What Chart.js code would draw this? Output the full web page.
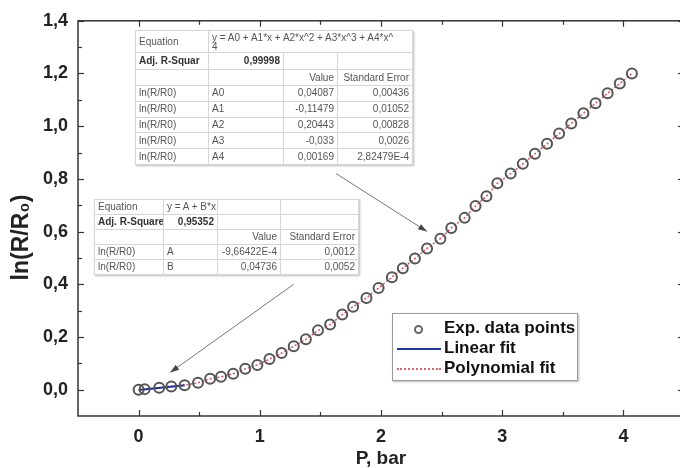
<!DOCTYPE html>
<html>
<head>
<meta charset="utf-8">
<script src="https://cdn.jsdelivr.net/npm/chart.js@4.4.1/dist/chart.umd.min.js"></script>
<style>
  body { margin: 0; overflow: hidden; background: #fff; }
  #wrap { position: relative; width: 680px; height: 468px; overflow: hidden; }
  #chart { position: absolute; left: 0; top: 0; }
  .fit { position: absolute; border-collapse: collapse; table-layout: fixed; background: #fff;
         font: 10px "Liberation Sans", Arial, sans-serif; color: #555;
         border: 1px solid #9a9a9a; box-shadow: 1px 1px 2px #bbb; }
  .fit td { border: 1px solid #d6d6d6; padding: 0 3px; white-space: nowrap; overflow: hidden; line-height: 10px; }
  .fit td.r { text-align: right; }
  .fit .b { font-weight: bold; color: #333; }
  #legend { position: absolute; left: 392px; top: 313px; width: 186px; height: 68px; background: #fff;
            border: 1px solid #9a9a9a; box-shadow: 1px 1px 2px #bbb; box-sizing: border-box; padding-top: 4px;
            font: bold 17px "Liberation Sans", Arial, sans-serif; color: #111; overflow: hidden; }
  #legend .item { height: 20px; line-height: 20px; white-space: nowrap; }
  #legend .sym { display: inline-block; width: 44px; margin: 0 3px 0 4px; vertical-align: middle; text-align: center; height: 10px; position: relative; }
  #legend .circ i { display: inline-block; width: 5px; height: 5px; border: 2px solid #666; border-radius: 50%; position: absolute; left: 17px; top: 1px; }
  #legend .blue { border-top: 2px solid #2233aa; height: 0; }
  #legend .red { border-top: 2px dotted #e0606a; height: 0; }
</style>
</head>
<body>
<div id="wrap">
  <canvas id="chart" width="692" height="468"></canvas>

  <table class="fit" style="left:135px; top:30px; width:277px; height:135px;">
    <colgroup><col style="width:73px"><col style="width:75px"><col style="width:54px"><col style="width:75px"></colgroup>
    <tr style="height:22px"><td>Equation</td><td colspan="3" style="line-height:9px">y = A0 + A1*x + A2*x^2 + A3*x^3 + A4*x^<br>4</td></tr>
    <tr style="height:17px"><td class="b">Adj. R-Squar</td><td class="r b">0,99998</td><td></td><td></td></tr>
    <tr style="height:16px"><td></td><td></td><td class="r">Value</td><td class="r">Standard Error</td></tr>
    <tr><td>ln(R/R0)</td><td>A0</td><td class="r">0,04087</td><td class="r">0,00436</td></tr>
    <tr><td>ln(R/R0)</td><td>A1</td><td class="r">-0,11479</td><td class="r">0,01052</td></tr>
    <tr><td>ln(R/R0)</td><td>A2</td><td class="r">0,20443</td><td class="r">0,00828</td></tr>
    <tr><td>ln(R/R0)</td><td>A3</td><td class="r">-0,033</td><td class="r">0,0026</td></tr>
    <tr><td>ln(R/R0)</td><td>A4</td><td class="r">0,00169</td><td class="r">2,82479E-4</td></tr>
  </table>

  <table class="fit" style="left:94px; top:199px; width:264px; height:76px;">
    <colgroup><col style="width:69px"><col style="width:54px"><col style="width:63px"><col style="width:78px"></colgroup>
    <tr><td>Equation</td><td>y = A + B*x</td><td></td><td></td></tr>
    <tr><td class="b">Adj. R-Square</td><td class="r b">0,95352</td><td></td><td></td></tr>
    <tr><td></td><td></td><td class="r">Value</td><td class="r">Standard Error</td></tr>
    <tr><td>ln(R/R0)</td><td>A</td><td class="r">-9,66422E-4</td><td class="r">0,0012</td></tr>
    <tr><td>ln(R/R0)</td><td>B</td><td class="r">0,04736</td><td class="r">0,0052</td></tr>
  </table>

  <div id="legend">
    <div class="item"><span class="sym circ"><i></i></span>Exp. data points</div>
    <div class="item"><span class="sym blue"></span>Linear fit</div>
    <div class="item"><span class="sym red"></span>Polynomial fit</div>
  </div>
</div>

<script>
// measured points, P in bar
var expX = [0, 0.05, 0.17, 0.27, 0.38, 0.49, 0.59, 0.68, 0.78, 0.88, 0.98, 1.08, 1.18, 1.28,
            1.38, 1.48, 1.58, 1.68, 1.77, 1.88, 1.98, 2.09, 2.18, 2.28, 2.38, 2.49, 2.58, 2.69,
            2.78, 2.87, 2.96, 3.07, 3.17, 3.27, 3.37, 3.47, 3.57, 3.67, 3.77, 3.87, 3.97, 4.07];
var expY = [0.000, 0.002, 0.007, 0.012, 0.017, 0.026, 0.041, 0.049, 0.060, 0.079, 0.094, 0.116,
            0.139, 0.165, 0.191, 0.225, 0.247, 0.285, 0.315, 0.348, 0.386, 0.427, 0.461, 0.498,
            0.536, 0.573, 0.614, 0.652, 0.697, 0.734, 0.783, 0.820, 0.857, 0.895, 0.933, 0.972,
            1.010, 1.049, 1.087, 1.125, 1.162, 1.200];

// linear fit segment (low pressure part)
var linX = [0, 0.38];
var linY = [-0.001, 0.017];

var xTicks = [0, 1, 2, 3, 4];
var xMinor = [0.5, 1.5, 2.5, 3.5];
var yTicks = [0, 0.2, 0.4, 0.6, 0.8, 1.0, 1.2, 1.4];
var yMinor = [0.1, 0.3, 0.5, 0.7, 0.9, 1.1, 1.3];

// annotation arrows from the fit tables, in data units
var arrows = [
    { from: [1.63, 0.82], to: [2.38, 0.60] },
    { from: [1.28, 0.40], to: [0.26, 0.065] }
];

function pairs(xs, ys) {
    return xs.map(function (x, i) { return { x: x, y: ys[i] }; });
}

var boldFont = function (size) {
    return { family: '"Liberation Sans", Arial, sans-serif', size: size, weight: 'bold' };
};

var framePlugin = {
    id: 'frame',
    afterDatasetsDraw: function (chart) {
        var ctx = chart.ctx, a = chart.chartArea;
        var xs = chart.scales.x, ys = chart.scales.y;
        ctx.save();
        ctx.strokeStyle = '#333';
        ctx.lineWidth = 1.5;
        ctx.strokeRect(a.left, a.top, a.right - a.left, a.bottom - a.top);

        function seg(x1, y1, x2, y2) {
            ctx.beginPath(); ctx.moveTo(x1, y1); ctx.lineTo(x2, y2); ctx.stroke();
        }
        ctx.lineWidth = 1.2;
        xTicks.concat(xMinor).forEach(function (v) {
            var len = xTicks.indexOf(v) >= 0 ? 6 : 4;
            var px = Math.round(xs.getPixelForValue(v)) + 0.5;
            seg(px, a.bottom, px, a.bottom - len);
            seg(px, a.top, px, a.top + len);
        });
        yTicks.concat(yMinor).forEach(function (v) {
            var len = yTicks.indexOf(v) >= 0 ? 6 : 4;
            var py = Math.round(ys.getPixelForValue(v)) + 0.5;
            seg(a.left, py, a.left + len, py);
            seg(a.right, py, a.right - len, py);
        });

        // arrows
        ctx.strokeStyle = '#777';
        ctx.fillStyle = '#444';
        ctx.lineWidth = 1;
        arrows.forEach(function (ar) {
            var x1 = xs.getPixelForValue(ar.from[0]), y1 = ys.getPixelForValue(ar.from[1]);
            var x2 = xs.getPixelForValue(ar.to[0]), y2 = ys.getPixelForValue(ar.to[1]);
            seg(x1, y1, x2, y2);
            var ang = Math.atan2(y2 - y1, x2 - x1);
            ctx.beginPath();
            ctx.moveTo(x2, y2);
            ctx.lineTo(x2 - 9 * Math.cos(ang) + 3 * Math.sin(ang), y2 - 9 * Math.sin(ang) - 3 * Math.cos(ang));
            ctx.lineTo(x2 - 9 * Math.cos(ang) - 3 * Math.sin(ang), y2 - 9 * Math.sin(ang) + 3 * Math.cos(ang));
            ctx.closePath();
            ctx.fill();
        });
        ctx.restore();
    }
};

var chart = new Chart(document.getElementById('chart'), {
    type: 'scatter',
    data: {
        datasets: [{
            label: 'Exp. data points',
            data: pairs(expX, expY),
            pointStyle: 'circle',
            pointRadius: 5,
            pointBorderWidth: 2,
            pointBorderColor: '#555',
            pointBackgroundColor: 'rgba(0,0,0,0)',
            showLine: false
        }, {
            label: 'Linear fit',
            data: pairs(linX, linY),
            showLine: true,
            pointRadius: 0,
            borderColor: '#1f2fa8',
            borderWidth: 2
        }, {
            label: 'Polynomial fit',
            data: pairs(expX, expY),
            showLine: true,
            pointRadius: 0,
            borderColor: '#d9505a',
            borderWidth: 1.5,
            borderDash: [2, 2]
        }]
    },
    options: {
        responsive: false,
        animation: false,
        devicePixelRatio: 1,
        layout: {
            padding: { top: 15, right: 8, left: 0, bottom: 0 }
        },
        plugins: {
            legend: { display: false },
            tooltip: { enabled: false }
        },
        scales: {
            x: {
                type: 'linear',
                min: -0.5,
                max: 4.5,
                afterBuildTicks: function (s) { s.ticks = xTicks.map(function (v) { return { value: v }; }); },
                afterFit: function (s) { s.height = 52; },
                grid: { display: false, drawTicks: false },
                border: { display: false },
                ticks: {
                    font: boldFont(18),
                    color: '#222',
                    padding: 10,
                    maxRotation: 0,
                    autoSkip: false,
                    callback: function (v) { return String(v); }
                },
                title: {
                    display: true,
                    text: 'P, bar',
                    font: boldFont(19),
                    color: '#222',
                    padding: { top: 0, bottom: -2 }
                }
            },
            y: {
                type: 'linear',
                min: -0.1,
                max: 1.4,
                afterBuildTicks: function (s) { s.ticks = yTicks.map(function (v) { return { value: v }; }); },
                afterFit: function (s) { s.width = 78; },
                grid: { display: false, drawTicks: false },
                border: { display: false },
                ticks: {
                    font: boldFont(18),
                    color: '#222',
                    padding: 10,
                    autoSkip: false,
                    callback: function (v) { return v.toFixed(1).replace('.', ','); }
                },
                title: {
                    display: true,
                    text: 'ln(R/R\u2080)\u00a0\u00a0\u00a0\u00a0\u00a0\u00a0',
                    font: boldFont(23),
                    color: '#222',
                    padding: { top: 8, bottom: 0 }
                }
            }
        }
    },
    plugins: [framePlugin]
});
</script>
</body>
</html>
